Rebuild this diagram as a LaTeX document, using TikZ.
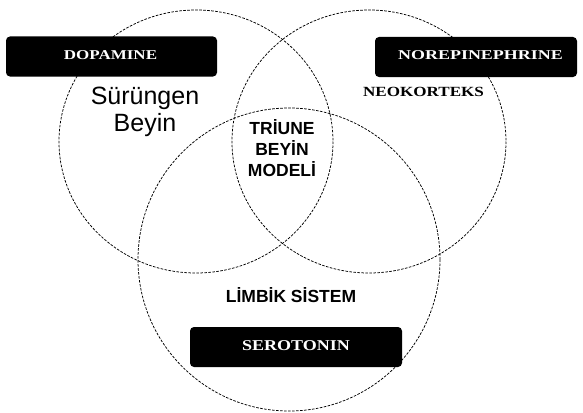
\documentclass[tikz,border=0pt]{standalone}
\usepackage{fontspec}
\setmainfont{Liberation Serif}
\setsansfont{Liberation Sans}
\begin{document}
\begin{tikzpicture}[x=1pt,y=-1pt,
  ring/.style={draw=black, line width=0.75pt, dash pattern=on 2.6pt off 1.4pt},
  blackbox/.style={fill=black, rounded corners=4pt, inner sep=0pt, minimum height=40pt},
  boxtext/.style={text=white, font=\bfseries\fontsize{13.5}{16}\selectfont, inner sep=0pt},
  lbl/.style={font=\sffamily\bfseries\fontsize{17.5}{21}\selectfont, align=center, inner sep=0pt}
]
\useasboundingbox (0,0) rectangle (583,412);
% three overlapping circles
\draw[ring] (196,141.5) ellipse [x radius=137, y radius=131.5];
\draw[ring] (369,141.5) ellipse [x radius=137, y radius=131.5];
\draw[ring] (289,259.5) ellipse [x radius=151, y radius=151.5];
% black label boxes
\node[blackbox, minimum width=211pt] (dopbox) at (111.5,56.5) {};
\node[blackbox, minimum width=202pt] (norbox) at (476,57) {};
\node[blackbox, minimum width=212pt] (serbox) at (296,347) {};
\node[boxtext] (dop) at (110.5,55) {\scalebox{1.26}[1]{DOPAMINE}};
\node[boxtext] (nor) at (480.5,55) {\scalebox{1.33}[1]{NOREPINEPHRINE}};
\node[boxtext, font=\bfseries\fontsize{15}{17}\selectfont] (ser) at (296,346) {\scalebox{1.2}[1]{SEROTONIN}};
% texts
\node[font=\sffamily\fontsize{25}{27}\selectfont, align=center, inner sep=0pt] (sur) at (145,112) {Sürüngen\\Beyin};
\node[font=\bfseries\fontsize{14}{16}\selectfont, inner sep=0pt] (neo) at (423.5,92) {\scalebox{1.22}[1]{NEOKORTEKS}};
\node[lbl] (tri) at (282,148) {TRİUNE\\BEYİN\\MODELİ};
\node[lbl] (lim) at (291,295) {LİMBİK SİSTEM};
\end{tikzpicture}
\end{document}
